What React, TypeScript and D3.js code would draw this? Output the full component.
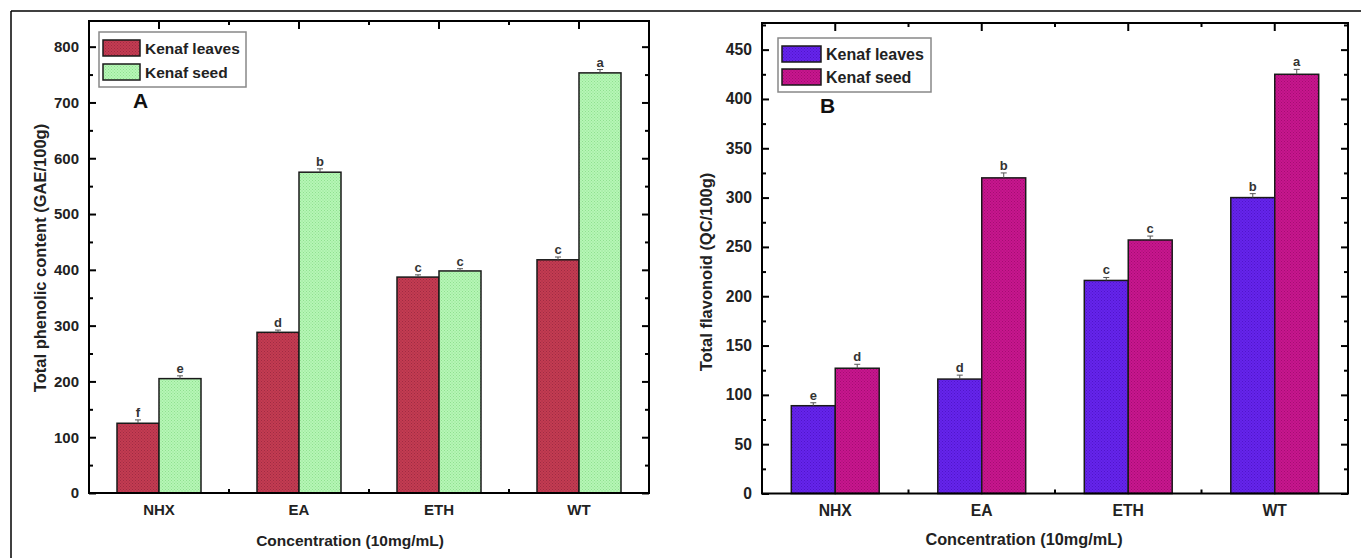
import React, { useEffect, useRef } from "react";
import * as d3 from "d3";

const categories = ["NHX", "EA", "ETH", "WT"];
const seriesNames = ["Kenaf leaves", "Kenaf seed"];

// panel A: total phenolic content
const phenolicLeaves = [125, 288, 387, 418];
const phenolicSeed = [205, 575, 398, 753];
const phenolicLeavesErr = [6, 4, 4, 5];
const phenolicSeedErr = [5, 6, 4, 6];
const phenolicLeavesLetters = ["f", "d", "c", "c"];
const phenolicSeedLetters = ["e", "b", "c", "a"];
const phenolicTicks = [0, 100, 200, 300, 400, 500, 600, 700, 800];

// panel B: total flavonoid
const flavonoidLeaves = [89, 116, 216, 300];
const flavonoidSeed = [127, 320, 257, 425];
const flavonoidLeavesErr = [3, 4, 3, 4];
const flavonoidSeedErr = [4, 5, 4, 5];
const flavonoidLeavesLetters = ["e", "d", "c", "b"];
const flavonoidSeedLetters = ["d", "b", "c", "a"];
const flavonoidTicks = [0, 50, 100, 150, 200, 250, 300, 350, 400, 450];

const FONT = "'Liberation Sans', Arial, sans-serif";

function drawPanel(svg, cfg) {
  const g = svg.append("g");
  const x = d3.scaleBand().domain(categories).range([cfg.left, cfg.right]).padding(0);
  const y = d3.scaleLinear().domain([0, cfg.yMax]).range([cfg.bottom, cfg.top]);
  const bw = x.bandwidth() * 0.3;
  const step = cfg.ticks[1] - cfg.ticks[0];
  const minor = cfg.ticks.map((t) => t + step / 2).filter((t) => t < cfg.yMax);
  const fs = cfg.fs;

  // left axis (labels) + right axis, ticks pointing inside
  const left = g.append("g").attr("transform", `translate(${cfg.left},0)`)
    .call(d3.axisLeft(y).tickValues(cfg.ticks).tickSize(-7).tickPadding(10));
  left.selectAll("text").attr("font-family", FONT).attr("font-weight", "bold")
    .attr("font-size", fs).attr("fill", "#222");
  g.append("g").attr("transform", `translate(${cfg.left},0)`)
    .call(d3.axisLeft(y).tickValues(minor).tickSize(-4).tickFormat(() => ""));
  g.append("g").attr("transform", `translate(${cfg.right},0)`)
    .call(d3.axisRight(y).tickValues(cfg.ticks).tickSize(-7).tickFormat(() => ""));
  g.append("g").attr("transform", `translate(${cfg.right},0)`)
    .call(d3.axisRight(y).tickValues(minor).tickSize(-4).tickFormat(() => ""));

  // top axis
  g.append("g").attr("transform", `translate(0,${cfg.top})`)
    .call(d3.axisTop(x).tickSize(-8).tickFormat(() => ""));
  // bottom axis labels
  const bottom = g.append("g").attr("transform", `translate(0,${cfg.bottom})`)
    .call(d3.axisBottom(x).tickSize(-8).tickPadding(11));
  bottom.selectAll("text").attr("font-family", FONT).attr("font-weight", "bold")
    .attr("font-size", fs).attr("fill", "#222");

  // minor ticks between groups (top and bottom)
  const bounds = categories.slice(1).map((c) => x(c));
  g.selectAll(".minor-x-top").data(bounds).enter().append("line")
    .attr("x1", (d) => d).attr("x2", (d) => d)
    .attr("y1", cfg.top).attr("y2", cfg.top + 4).attr("stroke", "#000").attr("stroke-width", 2);
  g.selectAll(".minor-x-bot").data(bounds).enter().append("line")
    .attr("x1", (d) => d).attr("x2", (d) => d)
    .attr("y1", cfg.bottom).attr("y2", cfg.bottom - 4).attr("stroke", "#000").attr("stroke-width", 2);

  g.selectAll(".domain").remove();
  g.selectAll(".tick line").attr("stroke", "#000").attr("stroke-width", 2);

  // bars
  const series = [
    { vals: cfg.leaves, err: cfg.leavesErr, letters: cfg.leavesLetters, fill: "url(#" + cfg.id + "0)", off: -bw },
    { vals: cfg.seed, err: cfg.seedErr, letters: cfg.seedLetters, fill: "url(#" + cfg.id + "1)", off: 0 },
  ];
  series.forEach((s) => {
    const cx = (i) => x(categories[i]) + x.bandwidth() / 2 + s.off;
    g.selectAll(null).data(s.vals).enter().append("rect")
      .attr("x", (d, i) => cx(i))
      .attr("y", (d) => y(d))
      .attr("width", bw)
      .attr("height", (d) => cfg.bottom - y(d))
      .attr("fill", s.fill)
      .attr("stroke", "#1a1a1a")
      .attr("stroke-width", 1.5);
    // error bars
    g.selectAll(null).data(s.vals).enter().append("line")
      .attr("x1", (d, i) => cx(i) + bw / 2).attr("x2", (d, i) => cx(i) + bw / 2)
      .attr("y1", (d) => y(d)).attr("y2", (d, i) => y(d + s.err[i]))
      .attr("stroke", "#555").attr("stroke-width", 1);
    g.selectAll(null).data(s.vals).enter().append("line")
      .attr("x1", (d, i) => cx(i) + bw / 2 - 3).attr("x2", (d, i) => cx(i) + bw / 2 + 3)
      .attr("y1", (d, i) => y(d + s.err[i])).attr("y2", (d, i) => y(d + s.err[i]))
      .attr("stroke", "#555").attr("stroke-width", 1);
    g.selectAll(null).data(s.vals).enter().append("text")
      .attr("x", (d, i) => cx(i) + bw / 2)
      .attr("y", (d, i) => y(d + s.err[i]) - 3)
      .attr("text-anchor", "middle")
      .attr("font-family", FONT).attr("font-weight", "bold").attr("font-size", 13)
      .attr("fill", "#333")
      .text((d, i) => s.letters[i]);
  });

  // frame
  g.append("rect")
    .attr("x", cfg.left).attr("y", cfg.top)
    .attr("width", cfg.right - cfg.left).attr("height", cfg.bottom - cfg.top)
    .attr("fill", "none").attr("stroke", "#000").attr("stroke-width", 2);

  // legend
  const lg = cfg.legend;
  g.append("rect").attr("x", lg.x).attr("y", lg.y).attr("width", lg.w).attr("height", lg.h)
    .attr("fill", "#fff").attr("stroke", "#888").attr("stroke-width", 1.5);
  seriesNames.forEach((name, i) => {
    g.append("rect").attr("x", lg.x + 4).attr("y", lg.y + 8 + i * lg.gap)
      .attr("width", lg.sw).attr("height", 16)
      .attr("fill", "url(#" + cfg.id + i + ")").attr("stroke", "#1a1a1a").attr("stroke-width", 1.5);
    g.append("text").attr("x", lg.x + lg.sw + 9).attr("y", lg.y + 22 + i * lg.gap)
      .attr("font-family", FONT).attr("font-weight", "bold").attr("font-size", lg.fs)
      .attr("fill", "#222").text(name);
  });

  // panel letter
  g.append("text").attr("x", cfg.tag.x).attr("y", cfg.tag.y)
    .attr("font-family", FONT).attr("font-weight", "bold").attr("font-size", 21)
    .attr("fill", "#111").text(cfg.tag.t);

  // axis titles
  g.append("text").attr("transform", `translate(${cfg.yTitle.x},${cfg.yTitle.y}) rotate(-90)`)
    .attr("text-anchor", "middle")
    .attr("font-family", FONT).attr("font-weight", "bold").attr("font-size", 16.5)
    .attr("fill", "#222").text(cfg.yTitle.t);
  g.append("text").attr("x", cfg.xTitle.x).attr("y", cfg.xTitle.y)
    .attr("text-anchor", "middle")
    .attr("font-family", FONT).attr("font-weight", "bold").attr("font-size", cfg.xTitle.fs)
    .attr("fill", "#222").text("Concentration (10mg/mL)");
}

function addPattern(defs, id, base, dot) {
  const p = defs.append("pattern").attr("id", id).attr("width", 3).attr("height", 3)
    .attr("patternUnits", "userSpaceOnUse");
  p.append("rect").attr("width", 3).attr("height", 3).attr("fill", base);
  p.append("rect").attr("x", 0).attr("y", 0).attr("width", 1).attr("height", 1).attr("fill", dot);
  p.append("rect").attr("x", 1.5).attr("y", 1.5).attr("width", 1).attr("height", 1).attr("fill", dot);
}

export default function App() {
  const ref = useRef(null);

  useEffect(() => {
    const svg = d3.select(ref.current);
    svg.selectAll("*").remove();
    const defs = svg.append("defs");
    addPattern(defs, "pa0", "#c43b52", "#9e2c42");
    addPattern(defs, "pa1", "#b6f6b6", "#8fe08f");
    addPattern(defs, "pb0", "#6624ec", "#4f16c8");
    addPattern(defs, "pb1", "#c8168e", "#a30d72");

    // outer frame lines
    svg.append("line").attr("x1", 11).attr("x2", 1361).attr("y1", 11).attr("y2", 11)
      .attr("stroke", "#000").attr("stroke-width", 1.5);
    svg.append("line").attr("x1", 11).attr("x2", 11).attr("y1", 11).attr("y2", 558)
      .attr("stroke", "#000").attr("stroke-width", 1.5);

    drawPanel(svg, {
      id: "pa", left: 89, right: 649, top: 21, bottom: 493, yMax: 846, fs: 15,
      ticks: phenolicTicks,
      leaves: phenolicLeaves, seed: phenolicSeed,
      leavesErr: phenolicLeavesErr, seedErr: phenolicSeedErr,
      leavesLetters: phenolicLeavesLetters, seedLetters: phenolicSeedLetters,
      legend: { x: 99, y: 32, w: 147, h: 55, sw: 37, gap: 24, fs: 15.5 },
      tag: { x: 133, y: 108, t: "A" },
      yTitle: { x: 46, y: 258, t: "Total phenolic content (GAE/100g)" },
      xTitle: { x: 350, y: 546, fs: 15.5 },
    });

    drawPanel(svg, {
      id: "pb", left: 762, right: 1348, top: 23, bottom: 493.5, yMax: 477, fs: 15.7,
      ticks: flavonoidTicks,
      leaves: flavonoidLeaves, seed: flavonoidSeed,
      leavesErr: flavonoidLeavesErr, seedErr: flavonoidSeedErr,
      leavesLetters: flavonoidLeavesLetters, seedLetters: flavonoidSeedLetters,
      legend: { x: 778, y: 38, w: 153, h: 54, sw: 39, gap: 23, fs: 16 },
      tag: { x: 820, y: 113, t: "B" },
      yTitle: { x: 712, y: 272, t: "Total flavonoid (QC/100g)" },
      xTitle: { x: 1024, y: 545, fs: 16.3 },
    });
  }, []);

  return (
    <svg
      ref={ref}
      width={1361}
      height={558}
      style={{ position: "absolute", left: 0, top: 0, background: "#fff", display: "block" }}
    />
  );
}
